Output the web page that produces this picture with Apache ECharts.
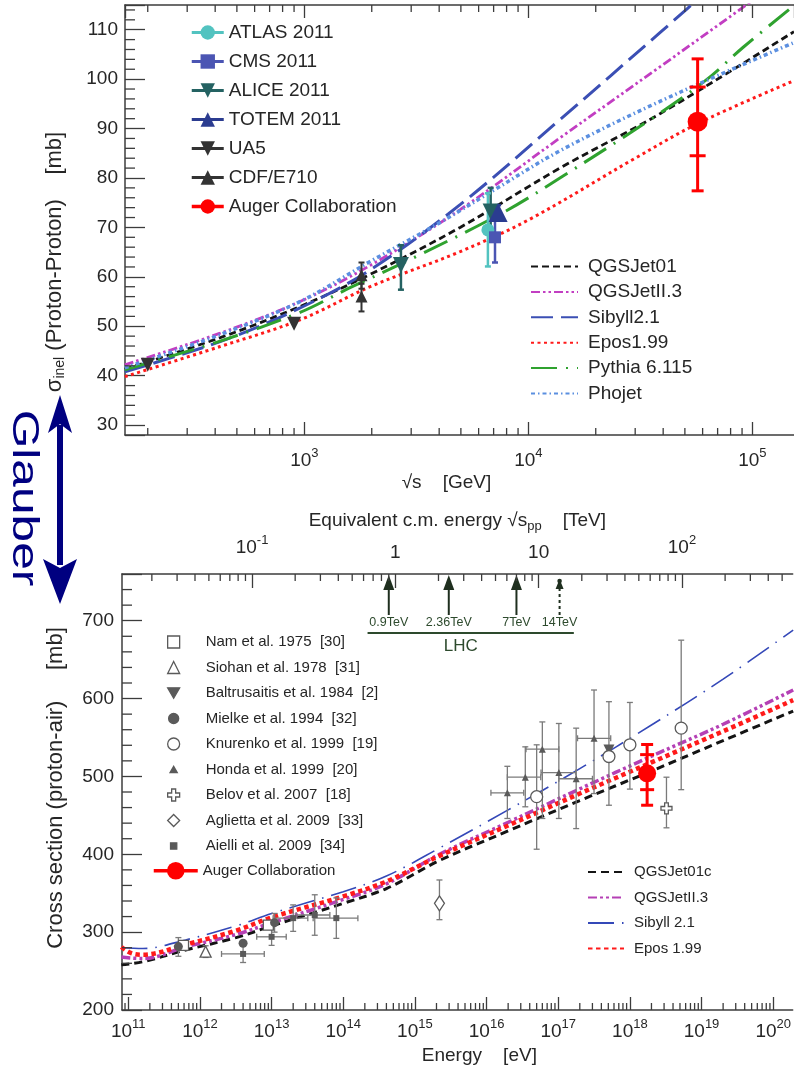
<!DOCTYPE html>
<html>
<head>
<meta charset="utf-8">
<script src="https://cdn.jsdelivr.net/npm/echarts@6.0.0/dist/echarts.min.js"></script>
<style>html,body{margin:0;padding:0;background:#fff;}#chart{width:794px;height:1070px;}</style>
</head>
<body>
<div id="chart"></div>
<script>
// ================= TOP PANEL: p-p inelastic cross section =================
// x: sqrt(s) [GeV], y: sigma_inel [mb]
const ppXRange = [158.3, 153500];
const ppYRange = [28, 115];

// model curves [sqrt(s), sigma]
const qgsjet01PP = [[158,41.3],[421,47.7],[957,54.0],[1967,60.5],[4960,70.0],[13840,82.0],[38700,93.0],[153500,109.6]];
const qgsjet2PP  = [[158,42.2],[421,48.6],[957,55.0],[1967,62.3],[4960,73.6],[13840,88.1],[38700,102.5],[90800,114.5],[153500,121.9]];
const sibyllPP   = [[158,40.8],[421,46.9],[957,53.7],[1967,61.4],[4960,74.6],[13840,91.8],[38700,109.4],[80000,122]];
const eposPP     = [[158,39.8],[421,45.9],[957,51.3],[1967,58.0],[4960,65.1],[10000,71.5],[30000,84.0],[57000,91.0],[153500,99.7]];
const pythiaPP   = [[158,41.2],[421,47.0],[957,52.8],[1600,57.8],[3060,63.8],[7710,73.0],[13840,80.0],[36100,92.2],[62500,99.9],[90800,106.4],[153500,114.9]];
const phojetPP   = [[158,41.6],[421,48.3],[957,55.0],[1967,63.1],[4035,71.0],[7000,77.5],[13840,85.5],[38700,95.5],[153500,107.4]];

// measurements [sqrt(s), sigma, low, high]
const atlasPP = [[6600,69.5,62.1,76.9]];
const cmsPP   = [[7100,68.0,62.9,73.1]];
const alicePP = [[2700,62.4,57.4,66.4],[6790,73.2,68.0,78.0]];
const totemPP = [[7330,73.0,71.5,74.5]];
const ua5PP   = [[200,42.2],[900,50.5]];
const cdfPP   = [[1800,60.3,57.6,62.9],[1800,56.0,53.0,58.6]];
// [sqrt(s), sigma, statLow, statHigh, sysLow, sysHigh]
const augerPP = [[57000,91.4,84.5,98.4,77.4,104.1]];

// ================= BOTTOM PANEL: p-air production cross section =================
// x: E [eV], y: sigma [mb]
const airXRange = [8.17e10, 1.871e20];
const airYRange = [200, 760];

const qgsjet01Air = [[8.0e10,258],[1.6e11,262],[6.3e11,277],[3.2e12,293],[1e13,308],[1e14,337],[4e14,356],[2.2e15,392],[2e16,430],[2e17,469],[2e18,507],[2e19,546],[1.9e20,584]];
const qgsjet2Air  = [[8.0e10,268],[1.6e11,266],[6.3e11,281],[3.2e12,297],[1e13,312],[1e14,342],[4e14,362],[2.2e15,400],[2e16,441],[2e17,484],[2e18,526],[2e19,567],[1.9e20,611]];
const sibyllAir   = [[8.0e10,280],[1.6e11,279],[6.3e11,290],[3.2e12,308],[1e13,324],[1e14,352],[4e14,372],[2.2e15,408],[2e16,457],[2e17,510],[2e18,566],[2e19,625],[1.9e20,688]];
const eposAir     = [[8.0e10,281],[1.1e11,273],[1.6e11,271],[6.3e11,284],[3.2e12,302],[1e13,319],[1e14,346],[4e14,365],[2.2e15,398],[2e16,437],[2e17,478],[2e18,518],[2e19,558],[1.9e20,598]];

// measurements [E, sigma, low, high, Elow, Ehigh]
const namAir      = [[5.9e11,283],[9.0e12,309]];
const siohanAir   = [[1.2e12,275,267.5,282.5]];
const baltruAir   = [[5.1e17,534,463,596]];
const mielkeAir   = [[5.0e11,281.4,269,293],[4.0e12,285.7],[1.1e13,312.2,300,324]];
const knurenkoAir = [[5.0e16,474,406.5,540.6],[5.1e17,525.6],[1.0e18,540.6,483.7,595],[5.2e18,562,483,675]];
const hondaAir    = [[1.95e16,479,446,513,1.15e16,3.3e16],[3.47e16,499,461,538,1.95e16,5.7e16],[6.0e16,535,446,570,3.55e16,1.02e17],
                     [1.02e17,505,446,568,5.75e16,1.76e17],[1.78e17,497,433,562,1.02e17,3.0e17],[3.16e17,549,478,611,1.86e17,5.4e17]];
const belovAir    = [[3.24e18,459,434,499]];
const agliettaAir = [[2.2e15,337,316,367]];
const aielliAir   = [[4.0e12,272,261,283,2.0e12,7.9e12],[1.0e13,294,283,306,6.2e12,1.6e13],[2.0e13,318,301,335,1.05e13,3.2e13],
                     [4.0e13,322,296,348,2.2e13,6.5e13],[8.0e13,318,292,344,3.8e13,1.6e14]];
// [E, sigma, statLow, statHigh, sysLow, sysHigh]
const augerAir    = [[1.74e18,504,483,528,463,541]];

// LHC energies on the equivalent c.m. energy axis [TeV]
const lhcEnergies = [0.9, 2.36, 7, 14];
const lhcLabels   = ['0.9TeV', '2.36TeV', '7TeV', '14TeV'];
const lhcRange    = [0.64, 17.6];

// conversion E_lab (eV) -> sqrt(s_pp) (TeV)
const protonMassEV = 0.938e9;
function tevFromEV(E) { return Math.sqrt(2 * protonMassEV * E) / 1e12; }

// ================= styling helpers =================
const FONT = '"Liberation Sans", Arial, Helvetica, sans-serif';
const TXT = '#262626';
const AX = '#3c3c3c';
const GREY = '#5a5a5a';
const GREYBAR = '#7a7a7a';

function isPow10(v) { const l = Math.log10(v); return Math.abs(l - Math.round(l)) < 1e-6; }
function powLabel(v) { if (!isPow10(v)) return ''; return '{b|10}{s|' + Math.round(Math.log10(v)) + '}'; }
function tevLabel(v) {
  if (!isPow10(v)) return '';
  const e = Math.round(Math.log10(v));
  if (e === 0) return '{b|1}';
  if (e === 1) return '{b|10}';
  return '{b|10}{s|' + e + '}';
}
const supRich = {
  b: { fontSize: 19, color: TXT, fontFamily: FONT },
  s: { fontSize: 13, color: TXT, fontFamily: FONT, padding: [0, 0, 15, 0] }
};

function logMinors(lo, hi) {
  const out = [];
  for (let e = Math.floor(Math.log10(lo)); e <= Math.ceil(Math.log10(hi)); e++)
    for (let m = 2; m <= 9; m++) { const v = m * Math.pow(10, e); if (v > lo && v < hi) out.push(v); }
  return out;
}
function linMinors(lo, hi, step, major) {
  const out = [];
  for (let v = Math.ceil(lo / step) * step; v < hi; v += step) {
    if (v > lo && Math.abs(v / major - Math.round(v / major)) > 1e-6) out.push(v);
  }
  return out;
}

// minor ticks drawn through the axes' own scales
function xMinorSeries(xi, yi, vals, yRef, sides, len) {
  return {
    type: 'custom', xAxisIndex: xi, yAxisIndex: yi, silent: true, z: 9,
    dimensions: ['x', 'y'], encode: { x: 0, y: 1 },
    data: vals.map(v => [v, yRef]),
    renderItem(params, api) {
      const cs = params.coordSys;
      const px = api.coord([api.value(0), api.value(1)])[0];
      const st = { stroke: AX, lineWidth: 1.3 };
      const ch = [];
      if (sides.indexOf('b') >= 0) ch.push({ type: 'line', shape: { x1: px, y1: cs.y + cs.height, x2: px, y2: cs.y + cs.height - len }, style: st });
      if (sides.indexOf('t') >= 0) ch.push({ type: 'line', shape: { x1: px, y1: cs.y, x2: px, y2: cs.y + len }, style: st });
      return { type: 'group', children: ch };
    }
  };
}
function yMinorSeries(xi, yi, vals, xRef, len) {
  return {
    type: 'custom', xAxisIndex: xi, yAxisIndex: yi, silent: true, z: 9,
    dimensions: ['x', 'y'], encode: { x: 0, y: 1 },
    data: vals.map(v => [xRef, v]),
    renderItem(params, api) {
      const cs = params.coordSys;
      const py = api.coord([api.value(0), api.value(1)])[1];
      return { type: 'group', children: [{ type: 'line', shape: { x1: cs.x, y1: py, x2: cs.x + len, y2: py }, style: { stroke: AX, lineWidth: 1.3 } }] };
    }
  };
}

function pad6(r) { return [r[0], r[1], r[2] ?? null, r[3] ?? null, r[4] ?? null, r[5] ?? null]; }
function errSeries(xi, yi, rows, color, lw, cap) {
  return {
    type: 'custom', xAxisIndex: xi, yAxisIndex: yi, silent: true, z: 4,
    dimensions: ['x', 'y', 'lo', 'hi', 'xl', 'xh'],
    data: rows.map(pad6),
    renderItem(params, api) {
      const x = api.value(0), y = api.value(1), lo = api.value(2), hi = api.value(3), xl = api.value(4), xh = api.value(5);
      const st = { stroke: color, lineWidth: lw };
      const ch = [];
      if (isFinite(lo) && isFinite(hi)) {
        const a = api.coord([x, lo]), b = api.coord([x, hi]);
        ch.push({ type: 'line', shape: { x1: a[0], y1: a[1], x2: b[0], y2: b[1] }, style: st });
        ch.push({ type: 'line', shape: { x1: a[0] - cap, y1: a[1], x2: a[0] + cap, y2: a[1] }, style: st });
        ch.push({ type: 'line', shape: { x1: b[0] - cap, y1: b[1], x2: b[0] + cap, y2: b[1] }, style: st });
      }
      if (isFinite(xl) && isFinite(xh) && xl > 0) {
        const a = api.coord([xl, y]), b = api.coord([xh, y]);
        ch.push({ type: 'line', shape: { x1: a[0], y1: a[1], x2: b[0], y2: b[1] }, style: st });
        ch.push({ type: 'line', shape: { x1: a[0], y1: a[1] - cap, x2: a[0], y2: a[1] + cap }, style: st });
        ch.push({ type: 'line', shape: { x1: b[0], y1: b[1] - cap, x2: b[0], y2: b[1] + cap }, style: st });
      }
      return { type: 'group', children: ch };
    }
  };
}
function augerErrSeries(xi, yi, rows, innerHalf, capHalf) {
  return {
    type: 'custom', xAxisIndex: xi, yAxisIndex: yi, silent: true, z: 7,
    dimensions: ['x', 'y', 'sl', 'sh', 'yl', 'yh'],
    data: rows,
    renderItem(params, api) {
      const x = api.value(0);
      const sl = api.coord([x, api.value(2)]), sh = api.coord([x, api.value(3)]);
      const yl = api.coord([x, api.value(4)]), yh = api.coord([x, api.value(5)]);
      const st = { stroke: '#ff0000', lineWidth: 3 };
      const px = sl[0];
      return {
        type: 'group', children: [
          { type: 'line', shape: { x1: px, y1: yl[1], x2: px, y2: yh[1] }, style: st },
          { type: 'line', shape: { x1: px - capHalf, y1: yl[1], x2: px + capHalf, y2: yl[1] }, style: st },
          { type: 'line', shape: { x1: px - capHalf, y1: yh[1], x2: px + capHalf, y2: yh[1] }, style: st },
          { type: 'line', shape: { x1: px - innerHalf, y1: sl[1], x2: px + innerHalf, y2: sl[1] }, style: st },
          { type: 'line', shape: { x1: px - innerHalf, y1: sh[1], x2: px + innerHalf, y2: sh[1] }, style: st }
        ]
      };
    }
  };
}

function curve(name, data, color, width, dash, xi, yi) {
  return {
    name, type: 'line', xAxisIndex: xi, yAxisIndex: yi, data,
    symbol: 'none', showSymbol: false, smooth: 0.35, silent: true, z: 2,
    lineStyle: { color, width, type: dash, cap: 'butt' }, itemStyle: { color }
  };
}
function markerLine(name, rows, symbol, size, color, rotate, xi, yi) {
  return {
    name, type: 'line', xAxisIndex: xi, yAxisIndex: yi, data: rows.map(r => [r[0], r[1]]),
    symbol, symbolSize: size, symbolRotate: rotate || 0, showSymbol: true, showAllSymbol: true,
    silent: true, z: 5, lineStyle: { width: 0, color }, itemStyle: { color, opacity: 1 }
  };
}
function scatter(name, rows, symbol, size, fill, stroke, rotate) {
  return {
    name, type: 'scatter', xAxisIndex: 2, yAxisIndex: 1, data: rows.map(r => [r[0], r[1]]),
    symbol, symbolSize: size, symbolRotate: rotate || 0, silent: true, z: 5,
    itemStyle: { color: fill, borderColor: stroke, borderWidth: fill === '#ffffff' ? 1.3 : 0, opacity: 1 }
  };
}

// colors
const C = {
  black: '#141414', magenta: '#c23ec2', blue: '#3b4fb4', red: '#ff1a1a', green: '#2fa22f', lblue: '#5b8fe0',
  atlas: '#52c3c0', cms: '#4b55b3', alice: '#246262', totem: '#2b3c90', dark: '#333333', auger: '#ff0000'
};
const crossPath = 'path://M-1,-3 L1,-3 L1,-1 L3,-1 L3,1 L1,1 L1,3 L-1,3 L-1,1 L-3,1 L-3,-1 L-1,-1 Z';
const downTriPath = 'path://M0,0 L10,0 L5,8.7 Z';
// legend-only icons with an enlarged bounding box so the glyph stays small
const smallTriIcon = 'path://M0,0 M10,10 M2,7.6 L8,7.6 L5,2.4 Z';
const smallRectIcon = 'path://M0,0 M10,10 M2.4,2.4 L7.6,2.4 L7.6,7.6 L2.4,7.6 Z';
const smallCircleIcon = 'path://M0,0 M10,10 M9.2,5 A4.2,4.2 0 1 1 0.8,5 A4.2,4.2 0 1 1 9.2,5 Z';

// LHC annotation series on the equivalent c.m. energy axis
const lhcSeries = {
  type: 'custom', xAxisIndex: 3, yAxisIndex: 1, silent: true, z: 8,
  dimensions: ['x', 'y', 'i'],
  data: lhcEnergies.map((e, i) => [e, airYRange[1], i]),
  renderItem(params, api) {
    const cs = params.coordSys;
    const i = api.value(2);
    const px = api.coord([api.value(0), api.value(1)])[0];
    const top = cs.y;
    const col = '#1f2f1f';
    const ch = [];
    const dashed = lhcEnergies[i] > 10;
    if (!dashed) {
      ch.push({ type: 'line', shape: { x1: px, y1: top + 10, x2: px, y2: top + 41 }, style: { stroke: col, lineWidth: 2 } });
      ch.push({ type: 'polygon', shape: { points: [[px, top + 1], [px - 5.5, top + 16], [px + 5.5, top + 16]] }, style: { fill: col } });
    } else {
      ch.push({ type: 'line', shape: { x1: px, y1: top + 14, x2: px, y2: top + 41 }, style: { stroke: col, lineWidth: 2, lineDash: [3, 3] } });
      ch.push({ type: 'polygon', shape: { points: [[px, top + 5], [px - 4, top + 15], [px + 4, top + 15]] }, style: { fill: col } });
      ch.push({ type: 'circle', shape: { cx: px, cy: top + 7, r: 2.3 }, style: { fill: col } });
    }
    ch.push({ type: 'text', x: px, y: top + 49, style: { text: lhcLabels[i], fontSize: 12.5, fontFamily: FONT, fill: '#2d4a2d', align: 'center', verticalAlign: 'middle' } });
    if (i === 0) {
      const a = api.coord([lhcRange[0], airYRange[1]])[0];
      const b = api.coord([lhcRange[1], airYRange[1]])[0];
      ch.push({ type: 'line', shape: { x1: a, y1: top + 59, x2: b, y2: top + 59 }, style: { stroke: '#2d4a2d', lineWidth: 2 } });
      ch.push({ type: 'text', x: (a + b) / 2 - 10, y: top + 72, style: { text: 'LHC', fontSize: 17, fontFamily: FONT, fill: '#2d4a2d', align: 'center', verticalAlign: 'middle' } });
    }
    return { type: 'group', children: ch };
  }
};

const axisLineStyle = { color: AX, width: 1.5 };
const tickStyle = { color: AX, width: 1.3 };

const option = {
  animation: false,
  backgroundColor: '#ffffff',
  textStyle: { fontFamily: FONT },
  grid: [
    { left: 125, top: 5, width: 669, height: 430, containLabel: false },
    { left: 122, top: 574, width: 672, height: 436, containLabel: false }
  ],
  xAxis: [
    {
      gridIndex: 0, type: 'log', logBase: 10, min: ppXRange[0], max: ppXRange[1], position: 'bottom', splitNumber: 5,
      axisLine: { lineStyle: axisLineStyle }, axisTick: { inside: true, length: 13, lineStyle: tickStyle },
      axisLabel: { formatter: powLabel, rich: supRich, margin: 12, showMinLabel: false, showMaxLabel: false },
      splitLine: { show: false },
      name: '√s    [GeV]', nameLocation: 'middle', nameGap: 38,
      nameTextStyle: { fontSize: 19, color: TXT, fontFamily: FONT, padding: [0, 26, 0, 0] }
    },
    {
      gridIndex: 0, type: 'log', logBase: 10, min: ppXRange[0], max: ppXRange[1], position: 'top',
      axisLine: { lineStyle: axisLineStyle }, axisTick: { inside: true, length: 13, lineStyle: tickStyle },
      axisLabel: { show: false }, splitLine: { show: false }
    },
    {
      gridIndex: 1, type: 'log', logBase: 10, min: airXRange[0], max: airXRange[1], position: 'bottom', splitNumber: 10,
      axisLine: { lineStyle: axisLineStyle }, axisTick: { inside: true, length: 13, lineStyle: tickStyle },
      axisLabel: { formatter: powLabel, rich: supRich, margin: 8, showMinLabel: false, showMaxLabel: false },
      splitLine: { show: false },
      name: 'Energy    [eV]', nameLocation: 'middle', nameGap: 36,
      nameTextStyle: { fontSize: 19, color: TXT, fontFamily: FONT, padding: [0, 0, 0, 44] }
    },
    {
      gridIndex: 1, type: 'log', logBase: 10, min: tevFromEV(airXRange[0]), max: tevFromEV(airXRange[1]), position: 'top',
      axisLine: { lineStyle: axisLineStyle }, axisTick: { inside: true, length: 14, lineStyle: tickStyle },
      axisLabel: { formatter: tevLabel, rich: supRich, margin: 12, showMinLabel: false, showMaxLabel: false },
      splitLine: { show: false },
      name: '{a|Equivalent c.m. energy √s}{sub|pp}{a|    [TeV]}', nameLocation: 'middle', nameGap: 36,
      nameTextStyle: {
        rich: {
          a: { fontSize: 19, color: TXT, fontFamily: FONT },
          sub: { fontSize: 13, color: TXT, fontFamily: FONT, padding: [12, 0, 0, 0] }
        }
      }
    }
  ],
  yAxis: [
    {
      gridIndex: 0, type: 'value', min: ppYRange[0], max: ppYRange[1], splitNumber: 9,
      axisLine: { show: true, lineStyle: axisLineStyle }, axisTick: { inside: true, length: 20, lineStyle: tickStyle },
      axisLabel: { formatter: v => (v % 10 === 0 ? String(v) : ''), fontSize: 19, color: TXT, fontFamily: FONT, margin: 7 },
      splitLine: { show: false },
      name: '{a|σ}{sub|inel}{a| (Proton-Proton)    [mb]}', nameLocation: 'middle', nameGap: 58,
      nameTextStyle: {
        padding: [0, 84, 0, 0],
        rich: {
          a: { fontSize: 22, color: TXT, fontFamily: FONT },
          sub: { fontSize: 14, color: TXT, fontFamily: FONT, padding: [11, 0, 0, 0] }
        }
      }
    },
    {
      gridIndex: 1, type: 'value', min: airYRange[0], max: airYRange[1], splitNumber: 6,
      axisLine: { show: true, lineStyle: axisLineStyle }, axisTick: { inside: true, length: 20, lineStyle: tickStyle },
      axisLabel: { formatter: v => (v % 100 === 0 ? String(v) : ''), fontSize: 19, color: TXT, fontFamily: FONT, margin: 8 },
      splitLine: { show: false },
      name: 'Cross section (proton-air)     [mb]', nameLocation: 'middle', nameGap: 55,
      nameTextStyle: { fontSize: 22, color: TXT, fontFamily: FONT, padding: [0, 0, 0, 8] }
    }
  ],
  legend: [
    {
      orient: 'vertical', left: 190, top: 23, padding: 0, itemWidth: 32, itemHeight: 18, itemGap: 10, selectedMode: false,
      textStyle: { fontSize: 19, color: TXT, fontFamily: FONT, lineHeight: 18 },
      data: [
        { name: 'ATLAS 2011', lineStyle: { width: 3, color: C.atlas } },
        { name: 'CMS 2011', lineStyle: { width: 3, color: C.cms } },
        { name: 'ALICE 2011', lineStyle: { width: 3, color: C.alice } },
        { name: 'TOTEM 2011', lineStyle: { width: 3, color: C.totem } },
        { name: 'UA5', lineStyle: { width: 3, color: C.dark } },
        { name: 'CDF/E710', lineStyle: { width: 3, color: C.dark } },
        { name: 'Auger Collaboration', lineStyle: { width: 3.5, color: C.auger } }
      ]
    },
    {
      orient: 'vertical', left: 530, top: 257, padding: 0, itemWidth: 47, itemHeight: 18, itemGap: 6.4, selectedMode: false,
      textStyle: { fontSize: 19, color: TXT, fontFamily: FONT, lineHeight: 18, padding: [0, 0, 0, 5] },
      itemStyle: { opacity: 0 },
      data: ['QGSJet01', 'QGSJetII.3', 'Sibyll2.1', 'Epos1.99', 'Pythia 6.115', 'Phojet']
    },
    {
      orient: 'vertical', left: 167, top: 634, padding: 0, itemWidth: 12, itemHeight: 12, itemGap: 9.5, selectedMode: false,
      textStyle: { fontSize: 15, color: TXT, fontFamily: FONT, lineHeight: 16, padding: [0, 0, 0, 21] },
      itemStyle: { borderWidth: 1.3 },
      data: [
        'Nam et al. 1975  [30]', 'Siohan et al. 1978  [31]', 'Baltrusaitis et al. 1984  [2]',
        { name: 'Mielke et al. 1994  [32]', icon: smallCircleIcon },
        'Knurenko et al. 1999  [19]',
        { name: 'Honda et al. 1999  [20]', icon: smallTriIcon },
        'Belov et al. 2007  [18]', 'Aglietta et al. 2009  [33]',
        { name: 'Aielli et al. 2009  [34]', icon: smallRectIcon }
      ]
    },
    {
      orient: 'vertical', left: 152, top: 862, padding: 0, itemWidth: 44, itemHeight: 22, selectedMode: false,
      textStyle: { fontSize: 15, color: TXT, fontFamily: FONT },
      data: [{ name: 'Auger Collaboration ', lineStyle: { width: 3.5, color: C.auger } }]
    },
    {
      orient: 'vertical', left: 587, top: 864, padding: 0, itemWidth: 36, itemHeight: 16, itemGap: 9.5, selectedMode: false,
      textStyle: { fontSize: 15, color: TXT, fontFamily: FONT, lineHeight: 16, padding: [0, 0, 0, 5] },
      itemStyle: { opacity: 0 },
      data: ['QGSJet01c', 'QGSJetII.3 ', 'Sibyll 2.1', 'Epos 1.99']
    }
  ],
  graphic: [
    {
      type: 'text', x: 23, y: 498, rotation: -Math.PI / 2, scaleX: 1.38, z: 100,
      style: { text: 'Glauber', fontSize: 36, fontFamily: FONT, fill: '#000080', align: 'center', verticalAlign: 'middle' }
    },
    { type: 'rect', shape: { x: 57, y: 425, width: 6, height: 140 }, style: { fill: '#000080' }, z: 100 },
    { type: 'polygon', shape: { points: [[60, 395], [72, 433], [60, 424], [48, 433]] }, style: { fill: '#000080' }, z: 100 },
    { type: 'polygon', shape: { points: [[60, 604], [77, 559], [60, 568], [43, 559]] }, style: { fill: '#000080' }, z: 100 }
  ],
  series: [
    // top panel curves
    curve('QGSJet01', qgsjet01PP, C.black, 2.8, [7, 4], 0, 0),
    curve('QGSJetII.3', qgsjet2PP, C.magenta, 2.8, [9, 3, 2.5, 3, 2.5, 3], 0, 0),
    curve('Sibyll2.1', sibyllPP, C.blue, 3, [22, 8], 0, 0),
    curve('Epos1.99', eposPP, C.red, 3, [3, 3.5], 0, 0),
    curve('Pythia 6.115', pythiaPP, C.green, 3, [26, 9, 2, 9], 0, 0),
    curve('Phojet', phojetPP, C.lblue, 3.5, [4, 3, 1.5, 3], 0, 0),
    // top panel error bars
    errSeries(0, 0, cdfPP, C.dark, 2, 3),
    errSeries(0, 0, alicePP, C.alice, 2.5, 3),
    errSeries(0, 0, atlasPP, C.atlas, 2.5, 3),
    errSeries(0, 0, cmsPP, C.cms, 2.5, 3),
    errSeries(0, 0, totemPP, C.totem, 2.5, 3),
    augerErrSeries(0, 0, augerPP, 8, 6),
    // top panel markers
    markerLine('ATLAS 2011', atlasPP, 'circle', 13, C.atlas, 0, 0, 0),
    markerLine('CMS 2011', cmsPP, 'rect', 12, C.cms, 0, 0, 0),
    markerLine('ALICE 2011', alicePP, 'triangle', 16, C.alice, 180, 0, 0),
    markerLine('TOTEM 2011', totemPP, 'triangle', 19, C.totem, 0, 0, 0),
    markerLine('UA5', ua5PP, 'triangle', 14, C.dark, 180, 0, 0),
    markerLine('CDF/E710', cdfPP, 'triangle', 12, C.dark, 0, 0, 0),
    markerLine('Auger Collaboration', augerPP, 'circle', 20, C.auger, 0, 0, 0),

    // bottom panel curves
    curve('QGSJet01c', qgsjet01Air, C.black, 3, [8, 5], 2, 1),
    curve('QGSJetII.3 ', qgsjet2Air, '#b540b5', 3.5, [9, 3, 3, 3, 3, 3], 2, 1),
    curve('Sibyll 2.1', sibyllAir, '#3448b8', 1.6, [26, 8, 1.5, 8], 2, 1),
    curve('Epos 1.99', eposAir, C.red, 4.5, [4.5, 3.5], 2, 1),
    // bottom panel error bars
    errSeries(2, 1, siohanAir, GREYBAR, 1.3, 3),
    errSeries(2, 1, baltruAir, GREYBAR, 1.3, 3),
    errSeries(2, 1, mielkeAir, GREYBAR, 1.3, 3),
    errSeries(2, 1, knurenkoAir, GREYBAR, 1.3, 3),
    errSeries(2, 1, hondaAir, GREYBAR, 1.3, 3),
    errSeries(2, 1, belovAir, GREYBAR, 1.3, 3),
    errSeries(2, 1, agliettaAir, GREYBAR, 1.3, 3),
    errSeries(2, 1, aielliAir, GREYBAR, 1.3, 3),
    augerErrSeries(2, 1, augerAir, 7, 6),
    // bottom panel markers
    scatter('Nam et al. 1975  [30]', namAir, 'rect', 10, '#ffffff', GREY),
    scatter('Siohan et al. 1978  [31]', siohanAir, 'triangle', 11, '#ffffff', GREY),
    scatter('Baltrusaitis et al. 1984  [2]', baltruAir, downTriPath, 11, GREY, GREY),
    scatter('Mielke et al. 1994  [32]', mielkeAir, 'circle', 9, GREY, GREY),
    scatter('Knurenko et al. 1999  [19]', knurenkoAir, 'circle', 12, '#ffffff', GREY),
    scatter('Honda et al. 1999  [20]', hondaAir, 'triangle', 7, GREY, GREY),
    scatter('Belov et al. 2007  [18]', belovAir, crossPath, 11, '#ffffff', GREY),
    scatter('Aglietta et al. 2009  [33]', agliettaAir, 'diamond', [10, 15], '#ffffff', GREY),
    scatter('Aielli et al. 2009  [34]', aielliAir, 'rect', 6, GREY, GREY),
    markerLine('Auger Collaboration ', augerAir, 'circle', 18, C.auger, 0, 2, 1),

    // LHC annotation
    lhcSeries,

    // minor ticks
    xMinorSeries(0, 0, logMinors(ppXRange[0], ppXRange[1]), 50, 'bt', 7),
    yMinorSeries(0, 0, linMinors(ppYRange[0], ppYRange[1], 2, 10), 1000, 10),
    xMinorSeries(2, 1, logMinors(airXRange[0], airXRange[1]), 300, 'b', 7),
    xMinorSeries(3, 1, logMinors(tevFromEV(airXRange[0]), tevFromEV(airXRange[1])), 300, 't', 7),
    yMinorSeries(2, 1, linMinors(airYRange[0], airYRange[1], 20, 100), 1e15, 10)
  ]
};

const chart = echarts.init(document.getElementById('chart'), null, { renderer: 'canvas' });
chart.setOption(option);
</script>
</body>
</html>
